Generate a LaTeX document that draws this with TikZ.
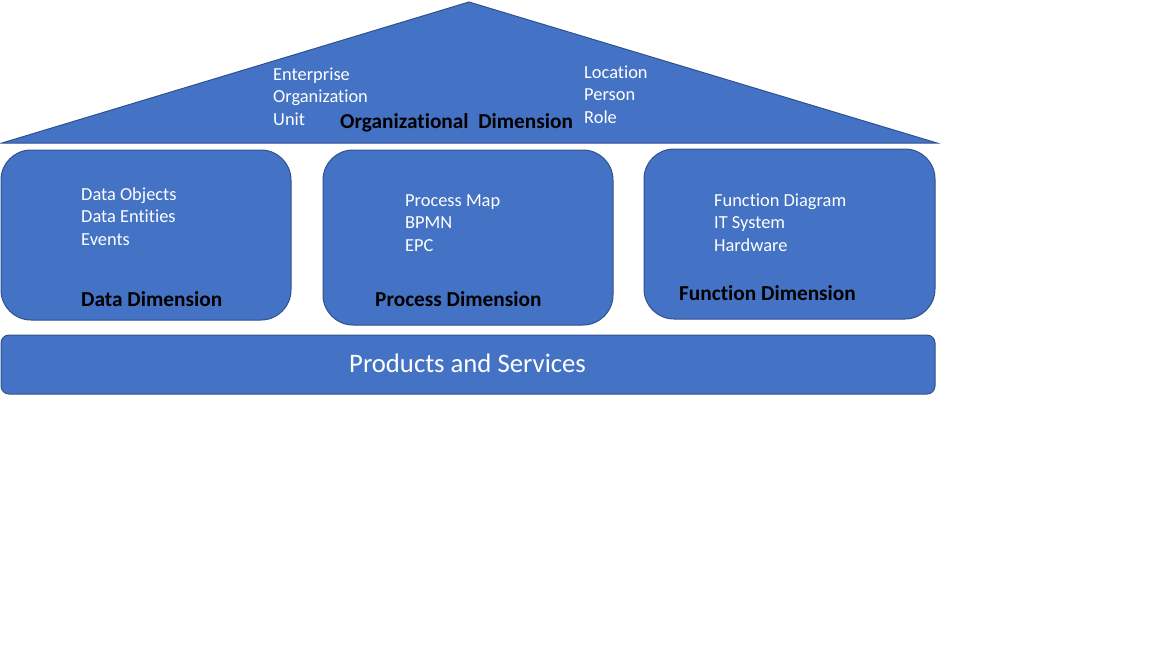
\documentclass[tikz,border=0pt]{standalone}
\usepackage{fontspec}
\setmainfont{Carlito}[Ligatures=NoCommon]
\definecolor{boxfill}{HTML}{4472C4}
\definecolor{boxline}{HTML}{2F528F}
\tikzset{
  panel/.style={draw=boxline, fill=boxfill, line width=1pt, rounded corners=30pt},
  item/.style={anchor=base west, inner sep=0pt, text=white, font=\fontsize{18.4}{22}\selectfont},
  title/.style={anchor=base west, inner sep=0pt, text=black, font=\fontsize{21.3}{25}\selectfont\bfseries},
}
\begin{document}
\begin{tikzpicture}[x=1pt,y=-1pt]
\useasboundingbox (0,0) rectangle (1152,648);
% roof
\draw[draw=boxline, fill=boxfill, line width=1pt] (2,143) -- (469,2) -- (937,143) -- cycle;
\node[item] (ent) at (273,80) {Enterprise};
\node[item] (org) at (273,102.5) {Organization};
\node[item] (unit) at (273,125) {Unit};
\node[item] (loc) at (584,78) {Location};
\node[item] (per) at (584,100.5) {Person};
\node[item] (role) at (584,123) {Role};
\node[title] (orgdim) at (340,128) {Organizational\ \ Dimension};
% pillars
\draw[panel] (1,150) rectangle (291,320);
\draw[panel] (323,150) rectangle (613,325);
\draw[panel] (644,149) rectangle (935,319);
\node[item] (do) at (81,200) {Data Objects};
\node[item] (de) at (81,222.5) {Data Entities};
\node[item] (ev) at (81,245) {Events};
\node[title] (dd) at (81,306) {Data Dimension};
\node[item] (pm) at (405,206) {Process Map};
\node[item] (bp) at (405,228.5) {BPMN};
\node[item] (epc) at (405,251) {EPC};
\node[title] (pd) at (375,306) {Process Dimension};
\node[item] (fd) at (714,206) {Function Diagram};
\node[item] (its) at (714,228.5) {IT System};
\node[item] (hw) at (714,251) {Hardware};
\node[title] (fdim) at (679,300) {Function Dimension};
% base
\draw[panel, rounded corners=8pt] (1,335) rectangle (935,394);
\node[anchor=base west, inner sep=0pt, text=white, font=\fontsize{26.7}{32}\selectfont] (ps) at (349,372) {Products and Services};
\end{tikzpicture}
\end{document}
